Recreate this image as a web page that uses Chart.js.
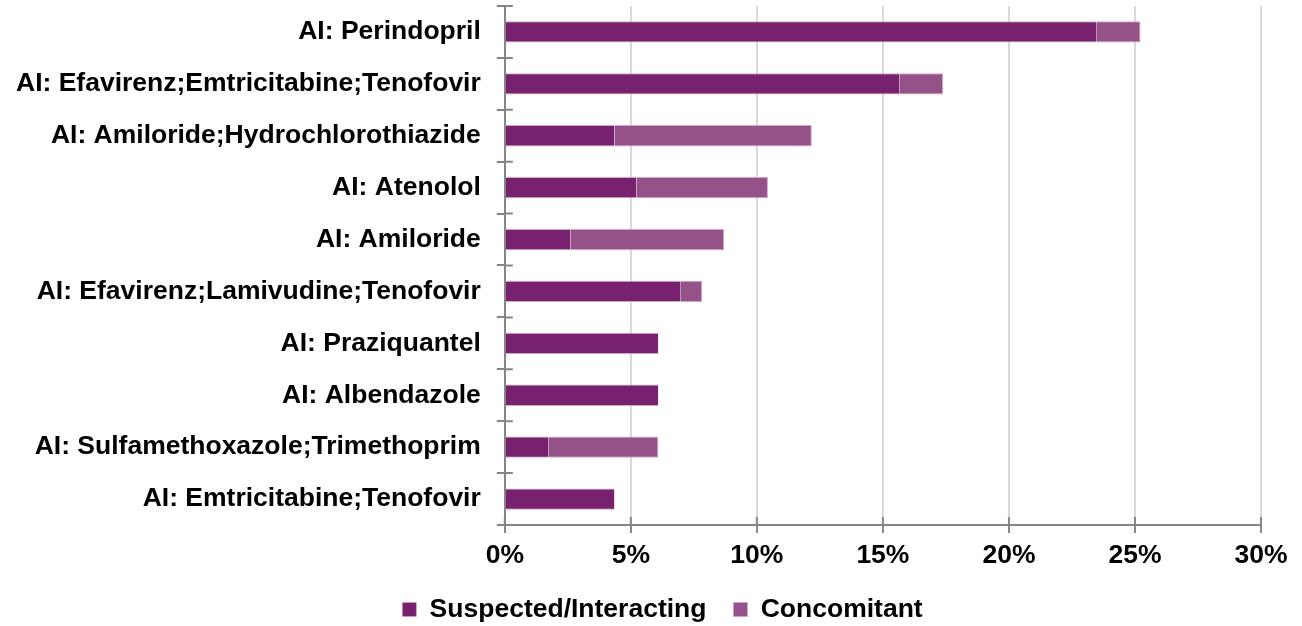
<!DOCTYPE html>
<html>
<head>
<meta charset="utf-8">
<script src="https://cdn.jsdelivr.net/npm/chart.js@4/dist/chart.umd.min.js"></script>
<style>
    html, body { margin: 0; padding: 0; background: #fff; }
    #wrap { width: 1302px; height: 626px; }
</style>
</head>
<body>
<div id="wrap"><canvas id="ae-graph" width="1302" height="626"></canvas></div>
<script>
const labels = [
    'AI: Perindopril',
    'AI: Efavirenz;Emtricitabine;Tenofovir',
    'AI: Amiloride;Hydrochlorothiazide',
    'AI: Atenolol',
    'AI: Amiloride',
    'AI: Efavirenz;Lamivudine;Tenofovir',
    'AI: Praziquantel',
    'AI: Albendazole',
    'AI: Sulfamethoxazole;Trimethoprim',
    'AI: Emtricitabine;Tenofovir'
];

// percent of reports
const suspected = [23.48, 15.65, 4.35, 5.22, 2.61, 6.96, 6.09, 6.09, 1.74, 4.35];
const concomitant = [1.74, 1.74, 7.83, 5.22, 6.09, 0.87, null, null, 4.35, null];

const xTicks = [0, 5, 10, 15, 20, 25, 30];

const axisGrey = '#868686';
const font = { family: "'Liberation Sans', Arial, sans-serif", size: 26.5, weight: 'bold' };
// legend sits a bit right of centre and closer to the axis in the original
const legendShift = { x: 32, y: -10 };

// small tick marks on the inner side of both axes + legend nudge
const extras = {
    id: 'extras',
    afterLayout(chart) {
        const lg = chart.legend;
        lg.left += legendShift.x;
        lg.right += legendShift.x;
        lg.top += legendShift.y;
        lg.bottom += legendShift.y;
    },
    afterDraw(chart) {
        const ctx = chart.ctx;
        const x = chart.scales.x;
        const y = chart.scales.y;
        ctx.save();
        ctx.strokeStyle = axisGrey;
        ctx.lineWidth = 2;
        ctx.beginPath();
        for (let i = 0; i <= labels.length; i++) {
            const py = y.getPixelForValue(i - 0.5);
            ctx.moveTo(x.left, py);
            ctx.lineTo(x.left + 8, py);
        }
        x.ticks.forEach(t => {
            const px = x.getPixelForValue(t.value);
            ctx.moveTo(px, y.bottom);
            ctx.lineTo(px, y.bottom - 8);
        });
        ctx.stroke();
        ctx.restore();
    }
};

const config = {
    type: 'bar',
    data: {
        labels: labels,
        datasets: [
            {
                label: 'Suspected/Interacting',
                data: suspected,
                backgroundColor: '#77216f',
                borderColor: '#cfa6c9',
                borderWidth: { top: 1, bottom: 1, left: 0, right: 0 },
                borderSkipped: false,
            },
            {
                label: 'Concomitant',
                data: concomitant,
                backgroundColor: '#955289',
                borderColor: '#cfa6c9',
                borderWidth: { top: 1, bottom: 1, left: 0, right: 1 },
                borderSkipped: false,
            }
        ]
    },
    options: {
        indexAxis: 'y',
        responsive: false,
        animation: false,
        layout: { padding: { top: 6, right: 41, left: 0, bottom: -16.75 } },
        datasets: {
            bar: { barPercentage: 0.41, categoryPercentage: 1 }
        },
        scales: {
            x: {
                stacked: true,
                min: 0,
                max: 30,
                afterBuildTicks: (scale) => {
                    scale.ticks = xTicks.map(v => ({ value: v }));
                },
                ticks: {
                    color: '#000',
                    font: Object.assign({}, font, { lineHeight: 0.84 }),
                    padding: 12,
                    callback: (v) => v + '%',
                },
                grid: {
                    color: '#d9d9d9',
                    lineWidth: 2,
                    tickColor: axisGrey,
                    tickLength: 8,
                },
                border: { color: axisGrey, width: 2 },
            },
            y: {
                stacked: true,
                afterFit: (scale) => {
                    scale.paddingTop = 0;
                    scale.paddingBottom = 0;
                },
                ticks: {
                    color: '#000',
                    font: font,
                    padding: 16,
                },
                grid: {
                    offset: true,
                    drawOnChartArea: false,
                    color: axisGrey,
                    lineWidth: 2,
                    tickLength: 8,
                },
                border: { color: axisGrey, width: 2 },
            }
        },
        plugins: {
            legend: {
                position: 'bottom',
                labels: {
                    color: '#000',
                    font: font,
                    boxWidth: 14,
                    boxHeight: 14,
                    padding: 27,
                }
            },
            tooltip: { enabled: false }
        }
    },
    plugins: [extras]
};

new Chart(document.getElementById('ae-graph'), config);
</script>
</body>
</html>
